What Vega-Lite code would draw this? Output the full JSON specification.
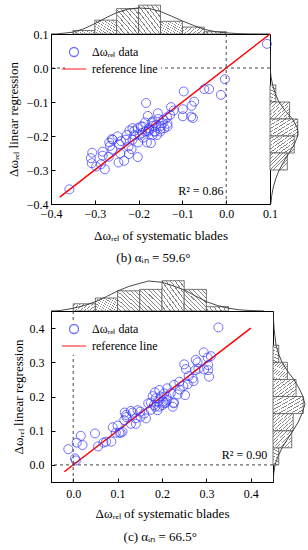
{
  "$schema": "https://vega.github.io/schema/vega-lite/v6.json",
  "padding": {"left": 6, "top": 4, "right": 0, "bottom": 0},
  "config": {
    "font": "Liberation Serif",
    "view": {"stroke": null},
    "axis": {"labelFont": "Liberation Serif", "titleFont": "Liberation Serif", "labelFontSize": 12, "titleFontSize": 13, "labelColor": "black", "titleColor": "black", "titleFontWeight": "normal", "domainColor": "black", "tickColor": "black", "grid": false, "domainWidth": 1, "tickWidth": 1, "tickSize": -4},
    "legend": {"labelFont": "Liberation Serif", "labelFontSize": 12, "labelColor": "black"},
    "title": {"font": "Liberation Serif", "fontSize": 13, "fontWeight": "normal", "color": "black"}
  },
  "resolve": {"scale": {"color": "independent", "shape": "independent"}, "legend": {"color": "independent", "shape": "independent"}},
  "datasets": {
    "p1": [
      {"x":0.093,"y":0.071},{"x":-0.003,"y":-0.033},{"x":-0.039,"y":-0.062},{"x":-0.050,"y":-0.062},{"x":-0.012,"y":-0.079},{"x":-0.097,"y":-0.069},{"x":-0.073,"y":-0.099},{"x":-0.079,"y":-0.111},{"x":-0.183,"y":-0.103},{"x":-0.099,"y":-0.121},{"x":-0.126,"y":-0.115},{"x":-0.128,"y":-0.138},{"x":-0.099,"y":-0.142},{"x":-0.179,"y":-0.141},{"x":-0.156,"y":-0.133},{"x":-0.080,"y":-0.143},{"x":-0.076,"y":-0.147},{"x":-0.143,"y":-0.152},{"x":-0.168,"y":-0.157},{"x":-0.160,"y":-0.167},{"x":-0.149,"y":-0.170},{"x":-0.134,"y":-0.164},{"x":-0.176,"y":-0.177},{"x":-0.191,"y":-0.172},{"x":-0.202,"y":-0.177},{"x":-0.214,"y":-0.177},{"x":-0.221,"y":-0.184},{"x":-0.179,"y":-0.187},{"x":-0.163,"y":-0.187},{"x":-0.150,"y":-0.187},{"x":-0.248,"y":-0.201},{"x":-0.261,"y":-0.209},{"x":-0.198,"y":-0.197},{"x":-0.168,"y":-0.197},{"x":-0.358,"y":-0.357},{"x":-0.306,"y":-0.249},{"x":-0.309,"y":-0.265},{"x":-0.307,"y":-0.280},{"x":-0.297,"y":-0.290},{"x":-0.277,"y":-0.298},{"x":-0.286,"y":-0.283},{"x":-0.282,"y":-0.246},{"x":-0.282,"y":-0.258},{"x":-0.267,"y":-0.219},{"x":-0.265,"y":-0.229},{"x":-0.268,"y":-0.261},{"x":-0.259,"y":-0.211},{"x":-0.246,"y":-0.278},{"x":-0.244,"y":-0.224},{"x":-0.242,"y":-0.251},{"x":-0.233,"y":-0.273},{"x":-0.229,"y":-0.211},{"x":-0.227,"y":-0.197},{"x":-0.223,"y":-0.231},{"x":-0.216,"y":-0.239},{"x":-0.214,"y":-0.211},{"x":-0.210,"y":-0.197},{"x":-0.202,"y":-0.262},{"x":-0.201,"y":-0.219},{"x":-0.195,"y":-0.172},{"x":-0.192,"y":-0.191},{"x":-0.185,"y":-0.187},{"x":-0.181,"y":-0.219},{"x":-0.172,"y":-0.221},{"x":-0.176,"y":-0.182},{"x":-0.168,"y":-0.170},{"x":-0.164,"y":-0.187},{"x":-0.158,"y":-0.197},{"x":-0.150,"y":-0.180},{"x":-0.145,"y":-0.162},{"x":-0.141,"y":-0.177},{"x":-0.134,"y":-0.172},{"x":-0.222,"y":-0.253},{"x":-0.190,"y":-0.205},{"x":-0.170,"y":-0.160},{"x":-0.155,"y":-0.150},{"x":-0.210,"y":-0.185},{"x":-0.240,"y":-0.215},{"x":-0.120,"y":-0.125},{"x":-0.185,"y":-0.160},{"x":-0.135,"y":-0.145},{"x":-0.260,"y":-0.240}
    ],
    "r1": [{"x": -0.38, "y": -0.38}, {"x": 0.1, "y": 0.1}],
    "h1x": [{"b0":-0.35,"b1":-0.3,"n":3},{"b0":-0.3,"b1":-0.25,"n":12},{"b0":-0.25,"b1":-0.2,"n":22},{"b0":-0.2,"b1":-0.15,"n":25},{"b0":-0.15,"b1":-0.1,"n":11},{"b0":-0.1,"b1":-0.05,"n":6},{"b0":-0.05,"b1":0,"n":2}],
    "c1x": [{"v":-0.4,"n":0},{"v":-0.385,"n":0.1},{"v":-0.35,"n":1.6},{"v":-0.325,"n":4.5},{"v":-0.3,"n":9},{"v":-0.275,"n":14},{"v":-0.25,"n":18.5},{"v":-0.225,"n":21.5},{"v":-0.2,"n":22.6},{"v":-0.175,"n":22},{"v":-0.15,"n":19.5},{"v":-0.125,"n":15.5},{"v":-0.1,"n":11.3},{"v":-0.075,"n":7.5},{"v":-0.05,"n":4},{"v":-0.025,"n":2},{"v":0,"n":1},{"v":0.025,"n":0.4},{"v":0.05,"n":0.1},{"v":0.1,"n":0}],
    "h1y": [{"b0":-0.1,"b1":-0.05,"n":5},{"b0":-0.15,"b1":-0.1,"n":17},{"b0":-0.2,"b1":-0.15,"n":24},{"b0":-0.25,"b1":-0.2,"n":21},{"b0":-0.3,"b1":-0.25,"n":15}],
    "c1y": [{"v":0.05,"n":0},{"v":0,"n":0.2},{"v":-0.025,"n":0.8},{"v":-0.05,"n":2.3},{"v":-0.075,"n":4.5},{"v":-0.1,"n":7.8},{"v":-0.125,"n":13},{"v":-0.15,"n":19.5},{"v":-0.175,"n":23.5},{"v":-0.19,"n":24.3},{"v":-0.2,"n":24},{"v":-0.225,"n":21},{"v":-0.25,"n":16.5},{"v":-0.275,"n":12},{"v":-0.3,"n":8},{"v":-0.325,"n":5},{"v":-0.35,"n":2.9},{"v":-0.375,"n":1.5},{"v":-0.4,"n":0.7}],
    "p2": [
      {"x":0.327,"y":0.402},{"x":0.294,"y":0.329},{"x":0.303,"y":0.314},{"x":0.310,"y":0.318},{"x":0.276,"y":0.307},{"x":0.304,"y":0.292},{"x":0.295,"y":0.279},{"x":0.304,"y":0.277},{"x":0.306,"y":0.258},{"x":0.250,"y":0.294},{"x":0.254,"y":0.280},{"x":0.282,"y":0.281},{"x":0.275,"y":0.277},{"x":0.269,"y":0.253},{"x":0.271,"y":0.245},{"x":0.239,"y":0.243},{"x":0.227,"y":0.234},{"x":0.248,"y":0.231},{"x":0.258,"y":0.236},{"x":0.212,"y":0.224},{"x":0.205,"y":0.209},{"x":0.194,"y":0.219},{"x":0.184,"y":0.212},{"x":0.186,"y":0.195},{"x":0.197,"y":0.200},{"x":0.179,"y":0.201},{"x":0.175,"y":0.182},{"x":0.191,"y":0.185},{"x":0.212,"y":0.190},{"x":0.235,"y":0.206},{"x":0.252,"y":0.204},{"x":0.226,"y":0.180},{"x":0.205,"y":0.180},{"x":-0.011,"y":0.046},{"x":0.004,"y":0.019},{"x":0.006,"y":0.013},{"x":0.008,"y":0.065},{"x":0.017,"y":0.085},{"x":0.021,"y":0.058},{"x":0.049,"y":0.092},{"x":0.056,"y":0.054},{"x":0.068,"y":0.065},{"x":0.074,"y":0.068},{"x":0.086,"y":0.068},{"x":0.089,"y":0.110},{"x":0.096,"y":0.094},{"x":0.107,"y":0.094},{"x":0.111,"y":0.097},{"x":0.116,"y":0.153},{"x":0.119,"y":0.146},{"x":0.130,"y":0.158},{"x":0.134,"y":0.153},{"x":0.141,"y":0.136},{"x":0.151,"y":0.156},{"x":0.152,"y":0.141},{"x":0.164,"y":0.136},{"x":0.169,"y":0.180},{"x":0.175,"y":0.161},{"x":0.182,"y":0.175},{"x":0.194,"y":0.170},{"x":0.201,"y":0.175},{"x":0.203,"y":0.185},{"x":0.209,"y":0.182},{"x":0.224,"y":0.170},{"x":0.227,"y":0.182},{"x":0.115,"y":0.131},{"x":0.141,"y":0.120},{"x":0.104,"y":0.094},{"x":0.130,"y":0.120},{"x":0.160,"y":0.150},{"x":0.145,"y":0.160},{"x":0.190,"y":0.160},{"x":0.210,"y":0.200},{"x":0.240,"y":0.220},{"x":0.260,"y":0.260},{"x":0.280,"y":0.300},{"x":0.220,"y":0.210},{"x":0.120,"y":0.140},{"x":0.100,"y":0.115},{"x":0.185,"y":0.170}
    ],
    "r2": [{"x": -0.02, "y": -0.02}, {"x": 0.4, "y": 0.4}],
    "h2x": [{"b0":0,"b1":0.05,"n":5},{"b0":0.05,"b1":0.1,"n":9},{"b0":0.1,"b1":0.15,"n":14},{"b0":0.15,"b1":0.2,"n":15},{"b0":0.2,"b1":0.25,"n":21},{"b0":0.25,"b1":0.3,"n":15},{"b0":0.3,"b1":0.35,"n":3}],
    "c2x": [{"v":-0.05,"n":0},{"v":-0.03,"n":0.3},{"v":0,"n":1.9},{"v":0.025,"n":3.8},{"v":0.05,"n":6.5},{"v":0.075,"n":10},{"v":0.1,"n":13.9},{"v":0.125,"n":17},{"v":0.15,"n":19.2},{"v":0.17,"n":20.8},{"v":0.2,"n":19.9},{"v":0.225,"n":17.5},{"v":0.25,"n":14.6},{"v":0.275,"n":10.5},{"v":0.3,"n":6.5},{"v":0.325,"n":3.8},{"v":0.35,"n":1.9},{"v":0.375,"n":0.8},{"v":0.4,"n":0.3},{"v":0.43,"n":0}],
    "h2y": [{"b0":0,"b1":0.05,"n":4},{"b0":0.05,"b1":0.1,"n":13},{"b0":0.1,"b1":0.15,"n":14},{"b0":0.15,"b1":0.2,"n":21},{"b0":0.2,"b1":0.25,"n":16},{"b0":0.25,"b1":0.3,"n":10},{"b0":0.3,"b1":0.35,"n":4}],
    "c2y": [{"v":0.45,"n":0},{"v":0.4,"n":0.7},{"v":0.35,"n":2.1},{"v":0.325,"n":3.8},{"v":0.3,"n":6.3},{"v":0.275,"n":10},{"v":0.25,"n":14.4},{"v":0.225,"n":18},{"v":0.2,"n":20.8},{"v":0.177,"n":22.2},{"v":0.15,"n":20.1},{"v":0.125,"n":17.5},{"v":0.1,"n":13.9},{"v":0.075,"n":10},{"v":0.05,"n":6.3},{"v":0.025,"n":3.5},{"v":0,"n":1.4},{"v":-0.025,"n":0.5},{"v":-0.05,"n":0.2}]
  },
  "vconcat": [
    {
      "columns": 2, "spacing": 0, "bounds": "flush", "align": "each",
      "resolve": {"scale": {"color": "independent", "shape": "independent"}, "legend": {"color": "independent", "shape": "independent"}},
      "title": {"text": "(b) αᵢₙ = 59.6°", "orient": "bottom", "anchor": "middle", "offset": 9},
      "concat": [
        {
          "width": 219, "height": 30,
          "layer": [
            {"data": {"name": "h1x"}, "mark": {"type": "rect", "stroke": "#555", "strokeWidth": 0.8,
               "fill": {"gradient": "linear", "x1": 0, "y1": 1, "x2": 1, "y2": 0, "stops": [
                 {"offset": 0, "color": "white"}, {"offset": 0.075, "color": "white"}, {"offset": 0.075, "color": "#888"}, {"offset": 0.1, "color": "#888"},
                 {"offset": 0.1, "color": "white"}, {"offset": 0.175, "color": "white"}, {"offset": 0.175, "color": "#888"}, {"offset": 0.2, "color": "#888"},
                 {"offset": 0.2, "color": "white"}, {"offset": 0.275, "color": "white"}, {"offset": 0.275, "color": "#888"}, {"offset": 0.3, "color": "#888"},
                 {"offset": 0.3, "color": "white"}, {"offset": 0.375, "color": "white"}, {"offset": 0.375, "color": "#888"}, {"offset": 0.4, "color": "#888"},
                 {"offset": 0.4, "color": "white"}, {"offset": 0.475, "color": "white"}, {"offset": 0.475, "color": "#888"}, {"offset": 0.5, "color": "#888"},
                 {"offset": 0.5, "color": "white"}, {"offset": 0.575, "color": "white"}, {"offset": 0.575, "color": "#888"}, {"offset": 0.6, "color": "#888"},
                 {"offset": 0.6, "color": "white"}, {"offset": 0.675, "color": "white"}, {"offset": 0.675, "color": "#888"}, {"offset": 0.7, "color": "#888"},
                 {"offset": 0.7, "color": "white"}, {"offset": 0.775, "color": "white"}, {"offset": 0.775, "color": "#888"}, {"offset": 0.8, "color": "#888"},
                 {"offset": 0.8, "color": "white"}, {"offset": 0.875, "color": "white"}, {"offset": 0.875, "color": "#888"}, {"offset": 0.9, "color": "#888"},
                 {"offset": 0.9, "color": "white"}, {"offset": 0.975, "color": "white"}, {"offset": 0.975, "color": "#888"}, {"offset": 1, "color": "#888"}]}},
             "encoding": {"x": {"field": "b0", "type": "quantitative", "scale": {"domain": [-0.4, 0.1], "nice": false, "zero": false}, "axis": null}, "x2": {"field": "b1"}, "y": {"field": "n", "type": "quantitative", "scale": {"domain": [0, 26], "nice": false}, "axis": null}, "y2": {"datum": 0}}},
            {"data": {"name": "c1x"}, "mark": {"type": "line", "color": "#333", "strokeWidth": 0.9, "clip": true},
             "encoding": {"x": {"field": "v", "type": "quantitative", "scale": {"domain": [-0.4, 0.1], "nice": false, "zero": false}, "axis": null}, "y": {"field": "n", "type": "quantitative", "scale": {"domain": [0, 26], "nice": false}, "axis": null}}}
          ]
        },
        {"width": 30, "height": 30, "data": {"values": []}, "mark": "point"},
        {
          "width": 219, "height": 170,
          "view": {"stroke": "black", "strokeWidth": 1},
          "resolve": {"axis": {"x": "independent", "y": "independent"}},
          "layer": [
            {"data": {"name": "r1"}, "mark": {"type": "line", "strokeWidth": 1.5},
             "encoding": {
               "x": {"field": "x", "type": "quantitative", "scale": {"domain": [-0.4, 0.1], "nice": false, "zero": false},
                 "axis": {"orient": "bottom", "values": [-0.4, -0.3, -0.2, -0.1, 0, 0.1], "format": ".1f", "labelOverlap": false, "labelFlush": false, "labelFont": "Liberation Serif", "labelPadding": 8, "titlePadding": 10, "title": "Δωᵣₑₗ of systematic blades"}},
               "y": {"field": "y", "type": "quantitative", "scale": {"domain": [-0.4, 0.1], "nice": false, "zero": false},
                 "axis": {"orient": "left", "values": [-0.4, -0.3, -0.2, -0.1, 0, 0.1], "format": ".1f", "labelOverlap": false, "labelFlush": false, "labelFont": "Liberation Serif", "labelPadding": 7, "titlePadding": 6, "title": "Δωᵣₑₗ linear regression"}},
               "color": {"datum": "reference line", "type": "nominal", "scale": {"domain": ["Δωᵣₑₗ data", "reference line"], "range": ["#3535ff", "#ff0000"]},
                 "legend": {"orient": "none", "legendX": 14, "legendY": 9, "title": null, "fillColor": "white", "padding": 3, "labelOffset": 12, "symbolStrokeWidth": 1.3, "symbolSize": 81, "rowPadding": 3, "symbolFillColor": "transparent"}}
             }},
            {"data": {"name": "p1"}, "mark": {"type": "point", "filled": false, "size": 81, "strokeWidth": 1},
             "encoding": {
               "x": {"field": "x", "type": "quantitative", "scale": {"domain": [-0.4, 0.1], "nice": false, "zero": false}, "axis": null},
               "y": {"field": "y", "type": "quantitative", "scale": {"domain": [-0.4, 0.1], "nice": false, "zero": false}, "axis": null},
               "color": {"datum": "Δωᵣₑₗ data", "type": "nominal"},
               "shape": {"datum": "Δωᵣₑₗ data", "type": "nominal", "scale": {"domain": ["Δωᵣₑₗ data", "reference line"], "range": ["circle", "M-2.7,0H2.7"]}}
             }},
            {"data": {"values": [{}]}, "mark": {"type": "rule", "strokeDash": [3, 3], "color": "#444", "strokeWidth": 1}, "encoding": {"x": {"datum": 0, "type": "quantitative", "scale": {"domain": [-0.4, 0.1], "nice": false, "zero": false}, "axis": null}}},
            {"data": {"values": [{}]}, "mark": {"type": "rule", "strokeDash": [3, 3], "color": "#444", "strokeWidth": 1}, "encoding": {"y": {"datum": 0, "type": "quantitative", "scale": {"domain": [-0.4, 0.1], "nice": false, "zero": false}, "axis": null}}},
            {"data": {"values": [{}]}, "mark": {"type": "text", "align": "right", "baseline": "middle", "fontSize": 12, "font": "Liberation Serif", "color": "black"},
             "encoding": {"x": {"datum": -0.006, "type": "quantitative", "scale": {"domain": [-0.4, 0.1], "nice": false, "zero": false}, "axis": null}, "y": {"datum": -0.363, "type": "quantitative", "scale": {"domain": [-0.4, 0.1], "nice": false, "zero": false}, "axis": null}, "text": {"value": "R² = 0.86"}}}
          ]
        },
        {
          "width": 30, "height": 170,
          "layer": [
            {"data": {"name": "h1y"}, "mark": {"type": "rect", "stroke": "#555", "strokeWidth": 0.8,
               "fill": {"gradient": "linear", "x1": 0, "y1": 0, "x2": 1, "y2": 1, "stops": [
                 {"offset": 0, "color": "white"}, {"offset": 0.075, "color": "white"}, {"offset": 0.075, "color": "#888"}, {"offset": 0.1, "color": "#888"},
                 {"offset": 0.1, "color": "white"}, {"offset": 0.175, "color": "white"}, {"offset": 0.175, "color": "#888"}, {"offset": 0.2, "color": "#888"},
                 {"offset": 0.2, "color": "white"}, {"offset": 0.275, "color": "white"}, {"offset": 0.275, "color": "#888"}, {"offset": 0.3, "color": "#888"},
                 {"offset": 0.3, "color": "white"}, {"offset": 0.375, "color": "white"}, {"offset": 0.375, "color": "#888"}, {"offset": 0.4, "color": "#888"},
                 {"offset": 0.4, "color": "white"}, {"offset": 0.475, "color": "white"}, {"offset": 0.475, "color": "#888"}, {"offset": 0.5, "color": "#888"},
                 {"offset": 0.5, "color": "white"}, {"offset": 0.575, "color": "white"}, {"offset": 0.575, "color": "#888"}, {"offset": 0.6, "color": "#888"},
                 {"offset": 0.6, "color": "white"}, {"offset": 0.675, "color": "white"}, {"offset": 0.675, "color": "#888"}, {"offset": 0.7, "color": "#888"},
                 {"offset": 0.7, "color": "white"}, {"offset": 0.775, "color": "white"}, {"offset": 0.775, "color": "#888"}, {"offset": 0.8, "color": "#888"},
                 {"offset": 0.8, "color": "white"}, {"offset": 0.875, "color": "white"}, {"offset": 0.875, "color": "#888"}, {"offset": 0.9, "color": "#888"},
                 {"offset": 0.9, "color": "white"}, {"offset": 0.975, "color": "white"}, {"offset": 0.975, "color": "#888"}, {"offset": 1, "color": "#888"}]}},
             "encoding": {"y": {"field": "b0", "type": "quantitative", "scale": {"domain": [-0.4, 0.1], "nice": false, "zero": false}, "axis": null}, "y2": {"field": "b1"}, "x": {"field": "n", "type": "quantitative", "scale": {"domain": [0, 26], "nice": false}, "axis": null}, "x2": {"datum": 0}}},
            {"data": {"name": "c1y"}, "mark": {"type": "line", "color": "#333", "strokeWidth": 0.9, "clip": true},
             "encoding": {"y": {"field": "v", "type": "quantitative", "scale": {"domain": [-0.4, 0.1], "nice": false, "zero": false}, "axis": null}, "x": {"field": "n", "type": "quantitative", "scale": {"domain": [0, 26], "nice": false}, "axis": null}, "order": {"field": "v", "type": "quantitative"}}}
          ]
        }
      ]
    },
    {
      "columns": 2, "spacing": 0, "bounds": "flush", "align": "each",
      "resolve": {"scale": {"color": "independent", "shape": "independent"}, "legend": {"color": "independent", "shape": "independent"}},
      "title": {"text": "(c) αᵢₙ = 66.5°", "orient": "bottom", "anchor": "middle", "offset": 10},
      "concat": [
        {
          "width": 222, "height": 31,
          "layer": [
            {"data": {"name": "h2x"}, "mark": {"type": "rect", "stroke": "#555", "strokeWidth": 0.8,
               "fill": {"gradient": "linear", "x1": 0, "y1": 1, "x2": 1, "y2": 0, "stops": [
                 {"offset": 0, "color": "white"}, {"offset": 0.075, "color": "white"}, {"offset": 0.075, "color": "#888"}, {"offset": 0.1, "color": "#888"},
                 {"offset": 0.1, "color": "white"}, {"offset": 0.175, "color": "white"}, {"offset": 0.175, "color": "#888"}, {"offset": 0.2, "color": "#888"},
                 {"offset": 0.2, "color": "white"}, {"offset": 0.275, "color": "white"}, {"offset": 0.275, "color": "#888"}, {"offset": 0.3, "color": "#888"},
                 {"offset": 0.3, "color": "white"}, {"offset": 0.375, "color": "white"}, {"offset": 0.375, "color": "#888"}, {"offset": 0.4, "color": "#888"},
                 {"offset": 0.4, "color": "white"}, {"offset": 0.475, "color": "white"}, {"offset": 0.475, "color": "#888"}, {"offset": 0.5, "color": "#888"},
                 {"offset": 0.5, "color": "white"}, {"offset": 0.575, "color": "white"}, {"offset": 0.575, "color": "#888"}, {"offset": 0.6, "color": "#888"},
                 {"offset": 0.6, "color": "white"}, {"offset": 0.675, "color": "white"}, {"offset": 0.675, "color": "#888"}, {"offset": 0.7, "color": "#888"},
                 {"offset": 0.7, "color": "white"}, {"offset": 0.775, "color": "white"}, {"offset": 0.775, "color": "#888"}, {"offset": 0.8, "color": "#888"},
                 {"offset": 0.8, "color": "white"}, {"offset": 0.875, "color": "white"}, {"offset": 0.875, "color": "#888"}, {"offset": 0.9, "color": "#888"},
                 {"offset": 0.9, "color": "white"}, {"offset": 0.975, "color": "white"}, {"offset": 0.975, "color": "#888"}, {"offset": 1, "color": "#888"}]}},
             "encoding": {"x": {"field": "b0", "type": "quantitative", "scale": {"domain": [-0.05, 0.45], "nice": false, "zero": false}, "axis": null}, "x2": {"field": "b1"}, "y": {"field": "n", "type": "quantitative", "scale": {"domain": [0, 21.5], "nice": false}, "axis": null}, "y2": {"datum": 0}}},
            {"data": {"name": "c2x"}, "mark": {"type": "line", "color": "#333", "strokeWidth": 0.9, "clip": true},
             "encoding": {"x": {"field": "v", "type": "quantitative", "scale": {"domain": [-0.05, 0.45], "nice": false, "zero": false}, "axis": null}, "y": {"field": "n", "type": "quantitative", "scale": {"domain": [0, 21.5], "nice": false}, "axis": null}}}
          ]
        },
        {"width": 36, "height": 31, "data": {"values": []}, "mark": "point"},
        {
          "width": 222, "height": 171,
          "view": {"stroke": "black", "strokeWidth": 1},
          "resolve": {"axis": {"x": "independent", "y": "independent"}},
          "layer": [
            {"data": {"name": "r2"}, "mark": {"type": "line", "strokeWidth": 1.5},
             "encoding": {
               "x": {"field": "x", "type": "quantitative", "scale": {"domain": [-0.05, 0.45], "nice": false, "zero": false},
                 "axis": {"orient": "bottom", "values": [0, 0.1, 0.2, 0.3, 0.4], "format": ".1f", "labelOverlap": false, "labelFlush": false, "labelFont": "Liberation Serif", "labelPadding": 10, "titlePadding": 8, "title": "Δωᵣₑₗ of systematic blades"}},
               "y": {"field": "y", "type": "quantitative", "scale": {"domain": [-0.05, 0.45], "nice": false, "zero": false},
                 "axis": {"orient": "left", "values": [0, 0.1, 0.2, 0.3, 0.4], "format": ".1f", "labelOverlap": false, "labelFlush": false, "labelFont": "Liberation Serif", "labelPadding": 11, "titlePadding": 4, "title": "Δωᵣₑₗ linear regression"}},
               "color": {"datum": "reference line", "type": "nominal", "scale": {"domain": ["Δωᵣₑₗ data", "reference line"], "range": ["#3535ff", "#ff0000"]},
                 "legend": {"orient": "none", "legendX": 14, "legendY": 9, "title": null, "fillColor": "white", "padding": 3, "labelOffset": 12, "symbolStrokeWidth": 1.3, "symbolSize": 81, "rowPadding": 3, "symbolFillColor": "transparent"}}
             }},
            {"data": {"name": "p2"}, "mark": {"type": "point", "filled": false, "size": 81, "strokeWidth": 1},
             "encoding": {
               "x": {"field": "x", "type": "quantitative", "scale": {"domain": [-0.05, 0.45], "nice": false, "zero": false}, "axis": null},
               "y": {"field": "y", "type": "quantitative", "scale": {"domain": [-0.05, 0.45], "nice": false, "zero": false}, "axis": null},
               "color": {"datum": "Δωᵣₑₗ data", "type": "nominal"},
               "shape": {"datum": "Δωᵣₑₗ data", "type": "nominal", "scale": {"domain": ["Δωᵣₑₗ data", "reference line"], "range": ["circle", "M-2.7,0H2.7"]}}
             }},
            {"data": {"values": [{}]}, "mark": {"type": "rule", "strokeDash": [3, 3], "color": "#444", "strokeWidth": 1}, "encoding": {"x": {"datum": 0, "type": "quantitative", "scale": {"domain": [-0.05, 0.45], "nice": false, "zero": false}, "axis": null}}},
            {"data": {"values": [{}]}, "mark": {"type": "rule", "strokeDash": [3, 3], "color": "#444", "strokeWidth": 1}, "encoding": {"y": {"datum": 0, "type": "quantitative", "scale": {"domain": [-0.05, 0.45], "nice": false, "zero": false}, "axis": null}}},
            {"data": {"values": [{}]}, "mark": {"type": "text", "align": "right", "baseline": "middle", "fontSize": 12, "font": "Liberation Serif", "color": "black"},
             "encoding": {"x": {"datum": 0.437, "type": "quantitative", "scale": {"domain": [-0.05, 0.45], "nice": false, "zero": false}, "axis": null}, "y": {"datum": 0.029, "type": "quantitative", "scale": {"domain": [-0.05, 0.45], "nice": false, "zero": false}, "axis": null}, "text": {"value": "R² = 0.90"}}}
          ]
        },
        {
          "width": 36, "height": 171,
          "layer": [
            {"data": {"name": "h2y"}, "mark": {"type": "rect", "stroke": "#555", "strokeWidth": 0.8,
               "fill": {"gradient": "linear", "x1": 0, "y1": 0, "x2": 1, "y2": 1, "stops": [
                 {"offset": 0, "color": "white"}, {"offset": 0.075, "color": "white"}, {"offset": 0.075, "color": "#888"}, {"offset": 0.1, "color": "#888"},
                 {"offset": 0.1, "color": "white"}, {"offset": 0.175, "color": "white"}, {"offset": 0.175, "color": "#888"}, {"offset": 0.2, "color": "#888"},
                 {"offset": 0.2, "color": "white"}, {"offset": 0.275, "color": "white"}, {"offset": 0.275, "color": "#888"}, {"offset": 0.3, "color": "#888"},
                 {"offset": 0.3, "color": "white"}, {"offset": 0.375, "color": "white"}, {"offset": 0.375, "color": "#888"}, {"offset": 0.4, "color": "#888"},
                 {"offset": 0.4, "color": "white"}, {"offset": 0.475, "color": "white"}, {"offset": 0.475, "color": "#888"}, {"offset": 0.5, "color": "#888"},
                 {"offset": 0.5, "color": "white"}, {"offset": 0.575, "color": "white"}, {"offset": 0.575, "color": "#888"}, {"offset": 0.6, "color": "#888"},
                 {"offset": 0.6, "color": "white"}, {"offset": 0.675, "color": "white"}, {"offset": 0.675, "color": "#888"}, {"offset": 0.7, "color": "#888"},
                 {"offset": 0.7, "color": "white"}, {"offset": 0.775, "color": "white"}, {"offset": 0.775, "color": "#888"}, {"offset": 0.8, "color": "#888"},
                 {"offset": 0.8, "color": "white"}, {"offset": 0.875, "color": "white"}, {"offset": 0.875, "color": "#888"}, {"offset": 0.9, "color": "#888"},
                 {"offset": 0.9, "color": "white"}, {"offset": 0.975, "color": "white"}, {"offset": 0.975, "color": "#888"}, {"offset": 1, "color": "#888"}]}},
             "encoding": {"y": {"field": "b0", "type": "quantitative", "scale": {"domain": [-0.05, 0.45], "nice": false, "zero": false}, "axis": null}, "y2": {"field": "b1"}, "x": {"field": "n", "type": "quantitative", "scale": {"domain": [0, 25], "nice": false}, "axis": null}, "x2": {"datum": 0}}},
            {"data": {"name": "c2y"}, "mark": {"type": "line", "color": "#333", "strokeWidth": 0.9, "clip": true},
             "encoding": {"y": {"field": "v", "type": "quantitative", "scale": {"domain": [-0.05, 0.45], "nice": false, "zero": false}, "axis": null}, "x": {"field": "n", "type": "quantitative", "scale": {"domain": [0, 25], "nice": false}, "axis": null}, "order": {"field": "v", "type": "quantitative"}}}
          ]
        }
      ]
    }
  ],
  "spacing": 15
}
